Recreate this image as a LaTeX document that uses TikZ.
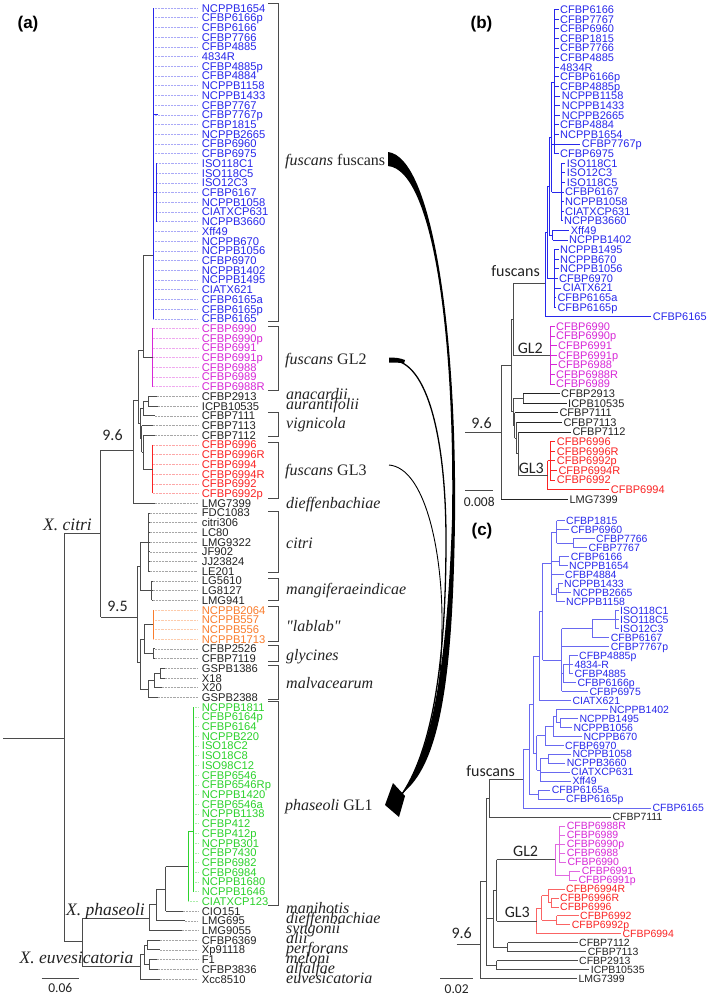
\documentclass[tikz,border=0pt]{standalone}
\usepackage{fontspec}
\setmainfont{Liberation Serif}
\setsansfont{Liberation Sans}
\newfontfamily\carl{Carlito}
\newfontfamily\plainserif{Liberation Serif}[Ligatures=ResetAll]
\definecolor{ablue}{RGB}{40,40,235}
\definecolor{amag}{RGB}{215,40,215}
\definecolor{ared}{RGB}{250,35,35}
\definecolor{aorange}{RGB}{250,125,45}
\definecolor{agreen}{RGB}{45,210,45}
\definecolor{tdark}{RGB}{35,35,35}
\definecolor{tgray}{RGB}{75,75,75}
\definecolor{cblue}{RGB}{105,105,240}
\definecolor{cmag}{RGB}{225,105,225}
\definecolor{cred}{RGB}{250,100,100}
\tikzset{
 tipA/.style={font=\sffamily\fontsize{11.2}{11.2}\selectfont,inner sep=0pt,anchor=west,text height=8pt,text depth=0pt},
 tipB/.style={font=\sffamily\fontsize{11}{11}\selectfont,inner sep=0pt,anchor=west,text height=8pt,text depth=0pt},
 tipC/.style={font=\sffamily\fontsize{10.5}{10.5}\selectfont,inner sep=0pt,anchor=west,text height=7.6pt,text depth=0pt},
 brA/.style={draw=tgray,line width=0.8pt},
 leadA/.style={densely dotted,line width=0.45pt,shorten >=4pt},
 brB/.style={line width=0.7pt,shorten >=1.5pt},
 tl/.style={draw=tgray,line width=0.75pt},
 bracket/.style={draw=tgray,line width=0.8pt},
 clade/.style={font=\fontsize{16}{16}\selectfont,inner sep=0pt,anchor=base west,text=tdark},
 spname/.style={font=\fontsize{17.5}{17.5}\selectfont\itshape,inner sep=0pt,text=tdark},
 nlab/.style={font=\carl\fontsize{16}{16}\selectfont,inner sep=0pt,anchor=base,text=tdark},
 slab/.style={font=\carl\fontsize{13.5}{13.5}\selectfont,inner sep=0pt,anchor=base,text=tdark},
 panel/.style={font=\sffamily\bfseries\fontsize{17}{17}\selectfont,inner sep=0pt},
}
\newcommand\TA[5]{%
 \node[tipA,text=#3] (a#1) at (201.7,{8+(#1-1)*9.71}) {#2};
 \draw[brA] (#4,{8+(#1-1)*9.71}) -- (#5,{8+(#1-1)*9.71});
 \draw[leadA,draw=#3!40] (#5,{8+(#1-1)*9.71}) -- (a#1.west);}
\newcommand\TB[5]{%
 \node[tipB,text=#3] (b#1) at (#5,{9.5+(#1-1)*9.6}) {#2};
 \draw[brB,draw=#3] (#4,{9.5+(#1-1)*9.6}) -- (b#1.west);}
\newcommand\TC[6]{%
 \node[tipC,text=#3] (c#1) at (#6,{520.7+(#1-1)*8.98}) {#2};
 \draw[brB,draw=#4] (#5,{520.7+(#1-1)*8.98}) -- (c#1.west);}
\begin{document}
\begin{tikzpicture}[x=1pt,y=-1pt]
\useasboundingbox (0,0) rectangle (709,997);
\fill[white] (0,0) rectangle (709,997);
% ================= panel (a) =================
\node[panel] (pa) at (28,24) {(a)};
\foreach \i/\t in {1/NCPPB1654,2/CFBP6166p,3/CFBP6166,4/CFBP7766,5/CFBP4885,6/4834R,7/CFBP4885p,8/CFBP4884,9/NCPPB1158,10/NCPPB1433,11/CFBP7767,12/CFBP7767p,13/CFBP1815,14/NCPPB2665,15/CFBP6960,16/CFBP6975,24/Xff49,25/NCPPB670,26/NCPPB1056,27/CFBP6970,28/NCPPB1402,29/NCPPB1495,30/CIATX621,31/CFBP6165a,32/CFBP6165p,33/CFBP6165}{\TA{\i}{\t}{ablue}{153.3}{153.3}}
\foreach \i/\t in {17/ISO118C1,18/ISO118C5,19/ISO12C3,20/CFBP6167,21/NCPPB1058,22/CIATXCP631,23/NCPPB3660}{\TA{\i}{\t}{ablue}{156}{156}}
\draw[ablue,line width=0.9pt] (153.3,8) -- (153.3,318.7);
\draw[ablue,line width=0.9pt] (156,163.4) -- (156,221.6) (153.3,192.5) -- (156,192.5) (153.3,114.8) -- (158,114.8);
\foreach \i/\t in {34/CFBP6990,35/CFBP6990p,36/CFBP6991,37/CFBP6991p,38/CFBP6988,39/CFBP6989,40/CFBP6988R}{\TA{\i}{\t}{amag}{152.7}{152.7}}
\draw[amag,line width=0.9pt] (152.7,328.4) -- (152.7,386.7);
\TA{41}{CFBP2913}{tdark}{148.3}{157}
\TA{42}{ICPB10535}{tdark}{148.3}{158}
\TA{43}{CFBP7111}{tdark}{143.3}{155}
\TA{44}{CFBP7113}{tdark}{141.7}{152.7}
\TA{45}{CFBP7112}{tdark}{143.3}{155}
\foreach \i/\t in {46/CFBP6996,47/CFBP6996R,48/CFBP6994,49/CFBP6994R,50/CFBP6992,51/CFBP6992p}{\TA{\i}{\t}{ared}{152.7}{152.7}}
\draw[ared,line width=0.9pt] (152.7,444.9) -- (152.7,493.4);
\TA{52}{LMG7399}{tdark}{133}{155}
\foreach \i/\t in {53/FDC1083,54/citri306,55/LC80,56/LMG9322,57/JF902,58/JJ23824,59/LE201}{\TA{\i}{\t}{tdark}{148.3}{150}}
\draw[tl] (148.3,513) -- (148.3,571.2);
\draw[tgray,line width=1.4pt] (148.3,532) -- (148.3,563);
\foreach \i/\t in {60/LG5610,61/LG8127,62/LMG941}{\TA{\i}{\t}{tdark}{151.7}{153}}
\draw[tl] (151.7,580.9) -- (151.7,600.3);
\foreach \i/\t in {63/NCPPB2064,64/NCPPB557,65/NCPPB556,66/NCPPB1713}{\TA{\i}{\t}{aorange}{153.3}{153.3}}
\draw[aorange,line width=0.9pt] (153.3,610) -- (153.3,639.2);
\draw[aorange,line width=1.3pt] (153.3,612) -- (153.3,630);
\TA{67}{CFBP2526}{tdark}{153.3}{155}
\TA{68}{CFBP7119}{tdark}{153.3}{155}
\draw[tl] (153.3,648.9) -- (153.3,658.6);
\TA{69}{GSPB1386}{tdark}{160}{165}
\TA{70}{X18}{tdark}{160}{165}
\TA{71}{X20}{tdark}{154}{162}
\TA{72}{GSPB2388}{tdark}{148.3}{158}
\foreach \i/\t in {73/NCPPB1811,74/CFBP6164p,75/CFBP6164,76/NCPPB220,77/ISO18C2,78/ISO18C8,79/ISO98C12,80/CFBP6546,81/CFBP6546Rp,82/NCPPB1420,83/CFBP6546a,84/NCPPB1138,85/CFBP412,86/CFBP412p,87/NCPPB301,88/CFBP7430,89/CFBP6982,90/CFBP6984,91/NCPPB1680,92/NCPPB1646}{\TA{\i}{\t}{agreen}{193.3}{193.3}}
\TA{93}{CIATXCP123}{agreen}{188.3}{188.3}
\draw[agreen,line width=0.9pt] (193.3,707.1) -- (193.3,891.6) (188.3,831.7) -- (188.3,901.3) (188.3,831.7) -- (193.3,831.7);
\TA{94}{CIO151}{tdark}{165.7}{183}
\TA{95}{LMG695}{tdark}{156.7}{185}
\TA{96}{LMG9055}{tdark}{149}{181.7}
\TA{97}{CFBP6369}{tdark}{147.7}{160}
\TA{98}{Xp91118}{tdark}{147.7}{160}
\TA{99}{F1}{tdark}{149}{157}
\TA{100}{CFBP3836}{tdark}{149}{158}
\TA{101}{Xcc8510}{tdark}{140}{160}
\draw[tl] (3,738) -- (64,738) (64,533.3) -- (64,941.7) (64,533.3) -- (100.7,533.3)
 (100.7,450) -- (100.7,617.3) (100.7,450) -- (133,450)
 (133,400) -- (133,503.2) (133,400) -- (138,400)
 (138,350) -- (138,423.6) (138,350) -- (143.3,350)
 (143.3,255) -- (143.3,357.5) (143.3,255) -- (153.3,255) (143.3,357.5) -- (152.7,357.5)
 (138,423.6) -- (140,423.6) (140,408.5) -- (140,438.8)
 (140,408.5) -- (143.3,408.5) (143.3,401.2) -- (143.3,415.8)
 (143.3,401.2) -- (148.3,401.2) (148.3,396.4) -- (148.3,406.1)
 (140,438.8) -- (141.7,438.8) (141.7,425.5) -- (141.7,452)
 (141.7,452) -- (143.3,452) (143.3,435.2) -- (143.3,468.9) (143.3,468.9) -- (152.7,468.9)
 (100.7,617.3) -- (137.7,617.3) (137.7,566.3) -- (137.7,662.5)
 (137.7,566.3) -- (140.7,566.3) (140.7,542) -- (140.7,590.6)
 (140.7,542) -- (148.3,542) (140.7,590.6) -- (151.7,590.6)
 (137.7,662.5) -- (140,662.5) (140,639) -- (140,689)
 (140,639) -- (144,639) (144,624.6) -- (144,653.7)
 (144,624.6) -- (153.3,624.6) (144,653.7) -- (153.3,653.7)
 (140,689) -- (148.3,689) (148.3,680.4) -- (148.3,697.4)
 (148.3,680.4) -- (154,680.4) (154,673.1) -- (154,687.7)
 (154,673.1) -- (160,673.1) (160,668.3) -- (160,678)
 (64,941.7) -- (82.3,941.7) (82.3,918.3) -- (82.3,966)
 (82.3,918.3) -- (149,918.3) (149,904.8) -- (149,930.4)
 (149,904.8) -- (156.7,904.8) (156.7,888.9) -- (156.7,920.7)
 (156.7,888.9) -- (165.7,888.9) (165.7,866.5) -- (165.7,911)
 (165.7,866.5) -- (188.3,866.5)
 (82.3,966) -- (140,966) (140,954.75) -- (140,979)
 (140,954.75) -- (144,954.75) (144,945.05) -- (144,964.45)
 (144,945.05) -- (147.7,945.05) (147.7,940.2) -- (147.7,949.9)
 (144,964.45) -- (149,964.45) (149,959.6) -- (149,969.3);
\node[spname,anchor=base east,fill=white,inner sep=1pt] (xc) at (93,530.5) {X. citri};
\node[spname,anchor=base east] (xp) at (145,915.5) {X. phaseoli};
\node[spname,anchor=base east] (xe) at (133.5,963) {X. euvesicatoria};
\node[nlab] (n96a) at (112.5,440) {9.6};
\node[nlab] (n95a) at (117.5,611) {9.5};
\draw[tl] (41.7,978.3) -- (79,978.3);
\node[slab] (sa) at (60.3,992.5) {0.06};
\foreach \ya/\yb in {3.3/321.7,326.7/390,412.7/436,442/498,511.7/572.7,578/600.7,606/641.7,645.7/661,665.7/699,701/905.7}{\draw[bracket] (268.3,\ya) -- (278.3,\ya) -- (278.3,\yb) -- (268.3,\yb);}
\node[clade] (lff) at (285,165) {\textit{fuscans} fuscans};
\node[clade] (lg2) at (285,364) {\textit{fuscans} GL2};
\node[clade] (lana) at (286,399.5) {\textit{anacardii}};
\node[clade] (laur) at (286,409.5) {\textit{aurantifolii}};
\node[clade] (lvig) at (286,428) {\textit{vignicola}};
\node[clade] (lg3) at (285,475.5) {\textit{fuscans} GL3};
\node[clade] (ldie) at (286,508) {\textit{dieffenbachiae}};
\node[clade] (lcit) at (286,548) {\textit{citri}};
\node[clade] (lman) at (286,594) {\textit{mangiferaeindicae}};
\node[clade] (llab) at (286,631) {{\plainserif\itshape "lablab"}};
\node[clade] (lgly) at (286,660) {\textit{glycines}};
\node[clade] (lmal) at (286,688) {\textit{malvacearum}};
\node[clade] (lgl1) at (285,810) {\textit{phaseoli} GL1};
\foreach \t [count=\k from 0] in {manihotis,dieffenbachiae,syngonii,alii,perforans,meloni,alfalfae,euvesicatoria}{\node[clade] (lb\k) at (286,{913+\k*10}) {\textit{\t}};}
% arrows
\fill[black] (388,152) .. controls (432,157) and (457,330) .. (455,520) .. controls (453,672) and (441,760) .. (405,791) -- (400,797) .. controls (432,752) and (447,668) .. (452,520) .. controls (455,330) and (432,170) .. (388,166) -- cycle;
\draw[black,line width=1.3pt] (392,360) .. controls (428,362) and (446,440) .. (446,540) .. controls (446,650) and (435,745) .. (402,794);
\fill[black] (389,357.5) .. controls (395,357.5) and (400,358) .. (405,360) -- (404,363.5) .. controls (399,362.5) and (395,362.5) .. (389,362.5) -- cycle;
\draw[black,line width=0.9pt] (389,465) .. controls (425,468) and (442,550) .. (442,620) .. controls (442,700) and (431,760) .. (402,794);
\fill[black] (385,805) -- (393,783) -- (405,796) -- (399,817) -- cycle;
% ================= panel (b) =================
\node[panel] (pb) at (481.5,24) {(b)};
\foreach \i/\t/\xa/\xb in {1/CFBP6166/554.3/560,2/CFBP7767/554.3/560,3/CFBP6960/554.3/560,4/CFBP1815/554.3/560,5/CFBP7766/554.3/560,6/CFBP4885/554.3/560,7/4834R/554.3/560,8/CFBP6166p/554.3/560,9/CFBP4885p/554.3/560,10/NCPPB1158/554.3/561.7,11/NCPPB1433/554.3/561.7,12/NCPPB2665/554.3/561.7,13/CFBP4884/554.3/560,14/NCPPB1654/554.3/560,15/CFBP7767p/551.7/581.7,16/CFBP6975/554.3/560,17/ISO118C1/561/566.7,18/ISO12C3/561/566.7,19/ISO118C5/561/566.7,20/CFBP6167/561/565,21/NCPPB1058/561/565,22/CIATXCP631/561/565,23/NCPPB3660/561/564,24/Xff49/552.7/570.7,25/NCPPB1402/552.7/569,26/NCPPB1495/554/560,27/NCPPB670/554/560,28/NCPPB1056/554/560,29/CFBP6970/554/559,30/CIATX621/554/562.7,31/CFBP6165a/554/557.3,32/CFBP6165p/554/557.3,33/CFBP6165/545/652.7}{\TB{\i}{\t}{ablue}{\xa}{\xb}}
\foreach \i/\t/\xb in {34/CFBP6990/556,35/CFBP6990p/556,36/CFBP6991/558,37/CFBP6991p/558,38/CFBP6988/558,39/CFBP6988R/556,40/CFBP6989/556}{\TB{\i}{\t}{amag}{550}{\xb}}
\TB{41}{CFBP2913}{tdark}{523}{561}
\TB{42}{ICPB10535}{tdark}{523}{568}
\TB{43}{CFBP7111}{tdark}{514.7}{559.3}
\TB{44}{CFBP7113}{tdark}{516.7}{563.3}
\TB{45}{CFBP7112}{tdark}{518.3}{572.3}
\foreach \i/\t/\xb in {46/CFBP6996/556.7,47/CFBP6996R/556.7,48/CFBP6992p/556.7,49/CFBP6994R/558.3,50/CFBP6992/556.7}{\TB{\i}{\t}{ared}{550}{\xb}}
\TB{51}{CFBP6994}{ared}{547.7}{610.7}
\TB{52}{LMG7399}{tdark}{501}{569.3}
\draw[ablue,line width=0.8pt] (554.3,9.5) -- (554.3,153.5) (551.7,82) -- (554.3,82)
 (551.7,82) -- (551.7,191.9) (551.7,191.9) -- (561,191.9) (561,163.1) -- (561,220.7)
 (549.3,137) -- (551.7,137) (549.3,137) -- (549.3,235.1) (549.3,235.1) -- (552.7,235.1)
 (552.7,230.3) -- (552.7,239.9) (547,186) -- (549.3,186) (547,186) -- (547,278.3)
 (547,278.3) -- (554,278.3) (554,249.5) -- (554,307.1) (545,232.2) -- (547,232.2)
 (545,232.2) -- (545,316.7);
\draw[amag,line width=0.8pt] (550,326.3) -- (550,383.9);
\draw[ared,line width=0.8pt] (547.7,460.7) -- (547.7,489.5) (547.7,460.7) -- (550,460.7) (550,441.5) -- (550,479.9);
\draw[tl] (513.3,283.3) -- (545,283.3) (513.3,355.1) -- (550,355.1)
 (513.3,283.3) -- (513.3,355.1) (511.7,319.2) -- (513.3,319.2)
 (511.7,319.2) -- (511.7,411.8) (511.7,411.8) -- (513.3,411.8)
 (513.3,398.3) -- (513.3,425.3) (513.3,398.3) -- (523,398.3) (523,393.5) -- (523,403.1)
 (513.3,425.3) -- (514.7,425.3) (514.7,412.7) -- (514.7,437.9)
 (514.7,437.9) -- (516.7,437.9) (516.7,422.3) -- (516.7,453.5)
 (516.7,453.5) -- (518.3,453.5) (518.3,431.9) -- (518.3,475.1) (518.3,475.1) -- (547.7,475.1)
 (501,365.5) -- (501,499.1) (501,365.5) -- (511.7,365.5) (465,432.3) -- (501,432.3);
\node[nlab,anchor=base east] (fb) at (540,276) {fuscans};
\node[nlab,anchor=base east] (g2b) at (543,353.5) {GL2};
\node[nlab,anchor=base east] (g3b) at (544,473) {GL3};
\node[nlab] (n96b) at (481.5,428.3) {9.6};
\draw[tl] (465,490.7) -- (493.3,490.7);
\node[slab] (sb) at (479.2,506.5) {0.008};
% ================= panel (c) =================
\node[panel] (pc) at (482,530.7) {(c)};
\foreach \i/\t/\xa/\xb in {1/CFBP1815/556.7/566,2/CFBP6960/556.7/570.7,3/CFBP7766/573.3/596,4/CFBP7767/573.3/588.3,5/CFBP6166/559.3/570.7,6/NCPPB1654/559.3/569,7/CFBP4884/551.7/565,8/NCPPB1433/558.3/564,9/NCPPB2665/558.3/572.7,10/NCPPB1158/556/566,11/ISO118C1/615/620,12/ISO118C5/615/620,13/ISO12C3/615/620,14/CFBP6167/592.3/610.7,15/CFBP7767p/561.7/610.7,16/CFBP4885p/569.3/579,17/4834-R/569.3/574.3,18/CFBP4885/569.3/574.3,19/CFBP6166p/563.3/577.3,20/CFBP6975/561.7/589.3,21/CIATX621/539.3/572.3,22/NCPPB1402/556.7/609.3,23/NCPPB1495/560/579.3,24/NCPPB1056/560/573.3,25/NCPPB670/553.3/583.3,26/CFBP6970/545/565,27/NCPPB1058/548.3/572.3,28/NCPPB3660/548.3/566.7,29/CIATXCP631/540/571,30/Xff49/540/572.3,31/CFBP6165a/538.3/551.7,32/CFBP6165p/538.3/566,33/CFBP6165/523.3/652.3}{\TC{\i}{\t}{ablue}{cblue}{\xa}{\xb}}
\TC{34}{CFBP7111}{tdark}{tgray}{489.3}{612.3}
\foreach \i/\t/\xa/\xb in {35/CFBP6988R/559.3/566.7,36/CFBP6989/559.3/566.7,37/CFBP6990p/559.3/566.7,38/CFBP6988/559.3/566.7,39/CFBP6990/559.3/567.3,40/CFBP6991/569.3/581.7,41/CFBP6991p/569.3/578.3}{\TC{\i}{\t}{amag}{cmag}{\xa}{\xb}}
\foreach \i/\t/\xa/\xb in {42/CFBP6994R/548.3/566,43/CFBP6996R/551/560,44/CFBP6996/551/560,45/CFBP6992/556.7/580,46/CFBP6992p/556.7/571.7,47/CFBP6994/536.7/622.3}{\TC{\i}{\t}{ared}{cred}{\xa}{\xb}}
\foreach \i/\t/\xa/\xb in {48/CFBP7112/507.7/579,49/CFBP7113/507.7/587.7,50/CFBP2913/496.7/579,51/ICPB10535/496.7/590.7,52/LMG7399/480/578.3}{\TC{\i}{\t}{tdark}{tgray}{\xa}{\xb}}
\draw[cblue,line width=0.75pt] (556.7,520.7) -- (556.7,543.2) (556.7,543.2) -- (573.3,543.2) (573.3,538.7) -- (573.3,547.6)
 (559.3,556.6) -- (559.3,565.6) (551.7,561.1) -- (559.3,561.1)
 (558.3,583.6) -- (558.3,592.5) (556,588) -- (558.3,588)
 (556,588) -- (556,601.5) (551.7,594.8) -- (556,594.8)
 (551.7,532) -- (556.7,532) (551.7,532) -- (551.7,594.8) (542.7,563.4) -- (551.7,563.4)
 (615,610.5) -- (615,628.5) (592.3,619.5) -- (615,619.5)
 (592.3,619.5) -- (592.3,637.4) (561.7,628.5) -- (592.3,628.5)
 (569.3,655.4) -- (569.3,673.4) (563.3,664.4) -- (569.3,664.4)
 (563.3,664.4) -- (563.3,682.3) (561.7,673.4) -- (563.3,673.4)
 (561.7,628.5) -- (561.7,691.3) (542.7,659.9) -- (561.7,659.9)
 (542.7,563.4) -- (542.7,659.9) (539.3,611.7) -- (542.7,611.7)
 (539.3,611.7) -- (539.3,700.3) (533,656) -- (539.3,656)
 (560,718.3) -- (560,727.2) (556.7,722.8) -- (560,722.8)
 (556.7,709.3) -- (556.7,722.8) (553.3,716) -- (556.7,716)
 (553.3,716) -- (553.3,736.2) (545,726.1) -- (553.3,726.1)
 (545,726.1) -- (545,745.2) (536.7,735.7) -- (545,735.7)
 (548.3,754.2) -- (548.3,763.2) (540,758.7) -- (548.3,758.7)
 (540,758.7) -- (540,781.1) (536.7,770) -- (540,770)
 (536.7,735.7) -- (536.7,770) (533,752.9) -- (536.7,752.9)
 (533,656) -- (533,752.9) (529.3,704.5) -- (533,704.5)
 (538.3,790.1) -- (538.3,799.1) (529.3,794.6) -- (538.3,794.6)
 (529.3,704.5) -- (529.3,794.6) (523.3,749.6) -- (529.3,749.6)
 (523.3,749.6) -- (523.3,808.1);
\draw[cmag,line width=0.75pt] (559.3,826) -- (559.3,861.9) (555,844) -- (559.3,844)
 (569.3,870.9) -- (569.3,879.9) (555,875.4) -- (569.3,875.4) (555,844) -- (555,875.4);
\draw[cred,line width=0.75pt] (551,897.8) -- (551,906.8) (548.3,902.3) -- (551,902.3)
 (548.3,888.9) -- (548.3,902.3) (541.7,895.6) -- (548.3,895.6)
 (556.7,915.8) -- (556.7,924.8) (541.7,920.3) -- (556.7,920.3)
 (541.7,895.6) -- (541.7,920.3) (536.7,908) -- (541.7,908) (536.7,908) -- (536.7,933.8);
\draw[tl] (489.3,778.9) -- (523.3,778.9) (489.3,778.9) -- (489.3,817) (486,798) -- (489.3,798)
 (496.7,859.7) -- (555,859.7) (496.7,920.9) -- (536.7,920.9)
 (496.7,859.7) -- (496.7,920.9) (493.3,890.3) -- (496.7,890.3)
 (507.7,942.7) -- (507.7,951.7) (493.3,947.2) -- (507.7,947.2)
 (493.3,890.3) -- (493.3,947.2) (486,918.8) -- (493.3,918.8)
 (496.7,960.7) -- (496.7,969.7) (486,965.2) -- (496.7,965.2)
 (486,798) -- (486,965.2) (480,881.6) -- (486,881.6)
 (480,881.6) -- (480,978.6) (456.7,944.3) -- (480,944.3);
\node[nlab,anchor=base east] (fc) at (515,776.5) {fuscans};
\node[nlab,anchor=base east] (g2c) at (538.3,856) {GL2};
\node[nlab,anchor=base east] (g3c) at (530,917) {GL3};
\node[nlab] (n96c) at (461.7,938.5) {9.6};
\draw[tl] (440,978.7) -- (473.3,978.7);
\node[slab] (sc) at (456.7,993) {0.02};
\end{tikzpicture}
\end{document}
